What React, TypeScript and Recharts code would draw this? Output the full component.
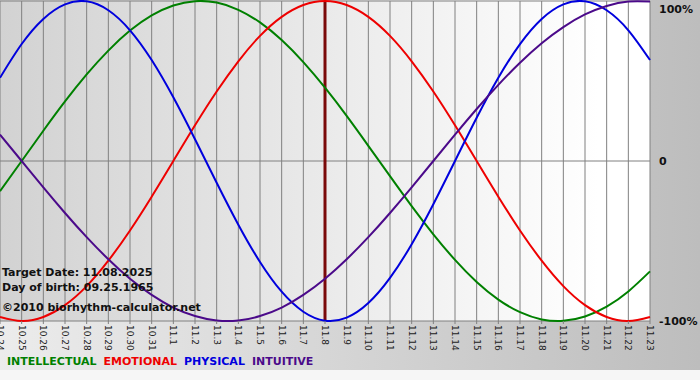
import React from "react";
import {
  LineChart,
  Line,
  XAxis,
  YAxis,
  CartesianGrid,
  ReferenceLine,
} from "recharts";

// Days shown on the x axis (month.day)
const days = [
  "10.24", "10.25", "10.26", "10.27", "10.28", "10.29", "10.30", "10.31",
  "11.1", "11.2", "11.3", "11.4", "11.5", "11.6", "11.7", "11.8", "11.9",
  "11.10", "11.11", "11.12", "11.13", "11.14", "11.15", "11.16", "11.17",
  "11.18", "11.19", "11.20", "11.21", "11.22", "11.23",
];

// Cycle values in percent, one per day
const physical = [
  52.0, 73.1, 88.8, 97.9, 99.8, 94.2, 81.7, 63.1, 39.8, 13.6, -13.6, -39.8,
  -63.1, -81.7, -94.2, -99.8, -97.9, -88.8, -73.1, -52.0, -27.0, 0, 27.0,
  52.0, 73.1, 88.8, 97.9, 99.8, 94.2, 81.7, 63.1,
];
const emotional = [
  -97.5, -100, -97.5, -90.1, -78.2, -62.3, -43.4, -22.3, 0, 22.3, 43.4, 62.3,
  78.2, 90.1, 97.5, 100, 97.5, 90.1, 78.2, 62.3, 43.4, 22.3, 0, -22.3, -43.4,
  -62.3, -78.2, -90.1, -97.5, -100, -97.5,
];
const intellectual = [
  -18.9, 0, 18.9, 37.2, 54.1, 69.0, 81.5, 91.0, 97.2, 99.9, 99.0, 94.5, 86.6,
  75.6, 61.8, 45.8, 28.2, 9.5, -9.5, -28.2, -45.8, -61.8, -75.6, -86.6, -94.5,
  -99.0, -99.9, -97.2, -91.0, -81.5, -69.0,
];
const intuitive = [
  16.5, 0, -16.5, -32.5, -47.6, -61.4, -73.6, -83.7, -91.6, -96.9, -99.7,
  -99.7, -96.9, -91.6, -83.7, -73.6, -61.4, -47.6, -32.5, -16.5, 0, 16.5,
  32.5, 47.6, 61.4, 73.6, 83.7, 91.6, 96.9, 99.7, 99.7,
];

const yTicks = [-100, 0, 100];
const yLabels: Record<number, string> = { 100: "100%", 0: "0", [-100]: "-100%" };
const targetDay = "11.8";

const SERIES = [
  { key: "intellectual", label: "INTELLECTUAL", color: "#008000" },
  { key: "emotional", label: "EMOTIONAL", color: "#ee0000" },
  { key: "physical", label: "PHYSICAL", color: "#0000dd" },
  { key: "intuitive", label: "INTUITIVE", color: "#4b0a8a" },
];

const data = days.map((day, i) => ({
  day,
  physical: physical[i],
  emotional: emotional[i],
  intellectual: intellectual[i],
  intuitive: intuitive[i],
}));

const FONT = "'DejaVu Sans', Verdana, sans-serif";

function DayTick({ x, y, payload }: any) {
  return (
    <text
      transform={`translate(${x},${y}) rotate(90)`}
      textAnchor="start"
      dominantBaseline="central"
      fontFamily={FONT}
      fontSize={9}
      fill="#222"
    >
      {payload.value}
    </text>
  );
}

function PctTick({ x, y, payload }: any) {
  return (
    <text
      x={x}
      y={y}
      dy={4}
      textAnchor="start"
      fontFamily={FONT}
      fontSize={11}
      fontWeight="bold"
      fill="#111"
    >
      {yLabels[payload.value]}
    </text>
  );
}

export default function App() {
  return (
    <div
      style={{
        position: "fixed",
        left: 0,
        top: 0,
        width: 700,
        height: 380,
        background: "#f6f6f6",
        fontFamily: FONT,
      }}
    >
      <div
        style={{
          position: "absolute",
          left: 0,
          top: 0,
          width: 700,
          height: 370,
          background: "linear-gradient(to right, #ececec, #bdbdbd)",
        }}
      />
      <div
        style={{
          position: "absolute",
          left: 0,
          top: 0,
          width: 650,
          height: 321,
          background: "linear-gradient(to right, #d2d2d2 0%, #eaeaea 50%, #ffffff 92%)",
        }}
      />
      <div style={{ position: "absolute", left: 0, top: 0 }}>
        <LineChart
          width={700}
          height={380}
          data={data}
          margin={{ top: 1, right: 0, left: 0, bottom: 29 }}
        >
          <CartesianGrid stroke="#808080" strokeWidth={1} />
          <XAxis
            dataKey="day"
            interval={0}
            height={30}
            axisLine={false}
            tickLine={{ stroke: "#808080" }}
            tickSize={3}
            tickMargin={1}
            tick={<DayTick />}
          />
          <YAxis
            orientation="right"
            width={50}
            domain={[-100, 100]}
            ticks={yTicks}
            axisLine={false}
            tickLine={false}
            tickSize={0}
            tickMargin={9}
            tick={<PctTick />}
          />
          <ReferenceLine x={targetDay} stroke="#7a0a0a" strokeWidth={3} />
          {SERIES.map((s) => (
            <Line
              key={s.key}
              dataKey={s.key}
              type="natural"
              stroke={s.color}
              strokeWidth={2}
              dot={false}
              activeDot={false}
              isAnimationActive={false}
            />
          ))}
        </LineChart>
      </div>
      <svg
        width={700}
        height={380}
        style={{ position: "absolute", left: 0, top: 0, pointerEvents: "none" }}
      >
        <g fontFamily={FONT} fontSize={11} fontWeight="bold" fill="#111">
          <text x={2} y={276}>Target Date: 11.08.2025</text>
          <text x={2} y={291}>Day of birth: 09.25.1965</text>
          <text x={2} y={311}>©2010 biorhythm-calculator.net</text>
        </g>
      </svg>
      <div
        style={{
          position: "absolute",
          left: 7,
          top: 355,
          display: "flex",
          gap: 7,
          fontSize: 11,
          fontWeight: "bold",
          lineHeight: "13px",
        }}
      >
        {SERIES.map((s) => (
          <span key={s.key} style={{ color: s.color }}>
            {s.label}
          </span>
        ))}
      </div>
    </div>
  );
}
